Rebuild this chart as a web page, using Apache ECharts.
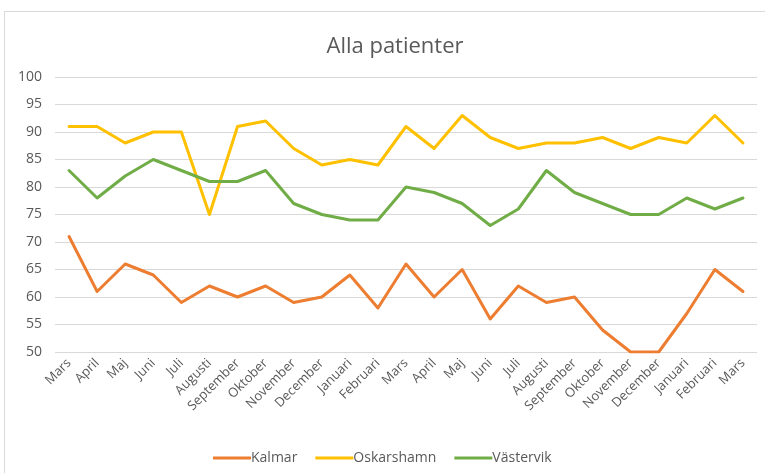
<!DOCTYPE html>
<html><head><meta charset="utf-8">
<script src="https://cdn.jsdelivr.net/npm/echarts@6/dist/echarts.min.js"></script>
<style>
html,body{margin:0;padding:0;background:#fff;}
#frame{position:absolute;left:4px;top:11px;width:800px;height:500px;border:1px solid #d9d9d9;box-sizing:border-box;}
#c{position:absolute;left:0;top:0;width:765px;height:473px;}
</style></head>
<body>
<div id="frame"></div>
<div id="c"></div>
<script>
const categories = ["Mars","April","Maj","Juni","Juli","Augusti","September","Oktober","November","December","Januari","Februari","Mars","April","Maj","Juni","Juli","Augusti","September","Oktober","November","December","Januari","Februari","Mars"];
const kalmar = [71,61,66,64,59,62,60,62,59,60,64,58,66,60,65,56,62,59,60,54,50,50,57,65,61];
const oskarshamn = [91,91,88,90,90,75,91,92,87,84,85,84,91,87,93,89,87,88,88,89,87,89,88,93,88];
const vastervik = [83,78,82,85,83,81,81,83,77,75,74,74,80,79,77,73,76,83,79,77,75,75,78,76,78];
const yTicks = [50,55,60,65,70,75,80,85,90,95,100];

const chart = echarts.init(document.getElementById('c'), null, {renderer:'canvas'});
const font = "'Open Sans', sans-serif";
function s(name, data, color){
  return {name, type:'line', data, symbol:'none', smooth:false,
    lineStyle:{color, width:3, cap:'round', join:'round'}, itemStyle:{color}};
}
chart.setOption({
  animation:false,
  title:{text:'Alla patienter', left:390, textAlign:'center', top:31,
    textStyle:{fontFamily:font, fontSize:22, fontWeight:'normal', color:'#595959'}},
  grid:{left:55, right:8, top:77, bottom:121, containLabel:false},
  xAxis:{type:'category', data:categories, boundaryGap:true,
    axisLine:{show:false}, axisTick:{show:false},
    axisLabel:{rotate:45, interval:0, margin:9, color:'#595959', fontFamily:font, fontSize:13}},
  yAxis:{type:'value', min:50, max:100, interval:5,
    axisLine:{show:false}, axisTick:{show:false},
    splitLine:{lineStyle:{color:'#d9d9d9', width:1}},
    axisLabel:{color:'#595959', fontFamily:font, fontSize:14, margin:13,
      formatter:v=> yTicks.includes(v)? String(v):''}},
  legend:{top:446, left:208, itemWidth:38, itemHeight:3, itemGap:18, icon:'rect',
    textStyle:{color:'#595959', fontFamily:font, fontSize:14, padding:[0,0,0,-5]},
    data:['Kalmar','Oskarshamn','Västervik']},
  series:[s('Kalmar',kalmar,'#ED7D31'), s('Oskarshamn',oskarshamn,'#FFC000'), s('Västervik',vastervik,'#70AD47')]
});
</script>
</body></html>
